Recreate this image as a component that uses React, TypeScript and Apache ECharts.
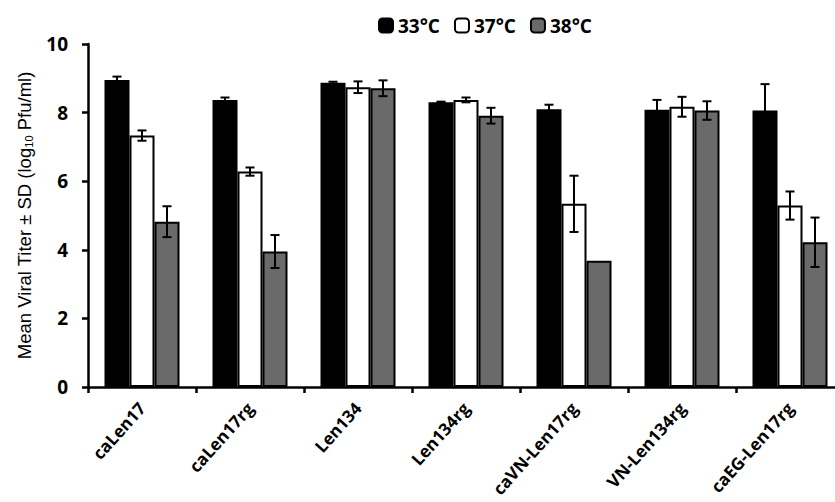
import React, { useEffect, useRef } from "react";
import * as echarts from "echarts";

const categories = ["caLen17", "caLen17rg", "Len134", "Len134rg", "caVN-Len17rg", "VN-Len134rg", "caEG-Len17rg"];
const seriesNames = ["33°C", "37°C", "38°C"];
const mean33 = [8.95, 8.37, 8.87, 8.3, 8.1, 8.08, 8.06];
const sd33 = [0.1, 0.07, 0.03, 0.02, 0.13, 0.29, 0.77];
const mean37 = [7.33, 6.28, 8.74, 8.37, 5.34, 8.17, 5.29];
const sd37 = [0.15, 0.12, 0.17, 0.07, 0.82, 0.29, 0.41];
const mean38 = [4.82, 3.95, 8.71, 7.91, 3.68, 8.06, 4.22];
const sd38 = [0.45, 0.48, 0.23, 0.23, 0, 0.27, 0.72];
const yTicks = [0, 2, 4, 6, 8, 10];

const fills = ["#000000", "#ffffff", "#6a6a6a"];
const BAR_W = 25;

export default function App() {
  const ref = useRef<HTMLDivElement>(null);
  useEffect(() => {
    if (!ref.current) return;
    const chart = echarts.init(ref.current, null, { renderer: "svg" });
    const means = [mean33, mean37, mean38];
    const sds = [sd33, sd37, sd38];
    const barSeries = seriesNames.map((name, k) => ({
      name,
      type: "bar",
      data: means[k],
      barWidth: BAR_W,
      barGap: "0%",
      itemStyle: { color: fills[k], borderColor: "#000", borderWidth: 2 },
      emphasis: { disabled: true },
    }));
    const errSeries = seriesNames.map((name, k) => ({
      type: "custom",
      name: name + "_err",
      z: 10,
      data: means[k].map((m, i) => [i, m - sds[k][i], m + sds[k][i], sds[k][i]]),
      encode: { x: 0, y: [1, 2] },
      renderItem: (params: any, api: any) => {
        const i = api.value(0);
        const sd = api.value(3);
        if (!sd) return { type: "group", children: [] };
        const top = api.coord([i, api.value(2)]);
        const bot = api.coord([i, api.value(1)]);
        const x = top[0] + (k - 1) * BAR_W;
        const cap = 4.5;
        const style = { stroke: "#000", lineWidth: 2 };
        return {
          type: "group",
          children: [
            { type: "line", shape: { x1: x, y1: top[1], x2: x, y2: bot[1] }, style },
            { type: "line", shape: { x1: x - cap, y1: top[1], x2: x + cap, y2: top[1] }, style },
            { type: "line", shape: { x1: x - cap, y1: bot[1], x2: x + cap, y2: bot[1] }, style },
          ],
        };
      },
    }));
    chart.setOption({
      animation: false,
      backgroundColor: "#ffffff",
      legend: {
        data: seriesNames,
        left: 373,
        top: 11,
        itemWidth: 14,
        itemHeight: 14,
        itemGap: 14,
        textStyle: { fontFamily: "Open Sans", fontWeight: "bold", fontSize: 19, color: "#000" },
      },
      grid: { left: 88, top: 44, width: 756, height: 343, outerBoundsMode: "none" },
      xAxis: {
        type: "category",
        data: categories,
        axisLine: { lineStyle: { color: "#000", width: 2.5 } },
        axisTick: { show: true, length: 6, lineStyle: { color: "#000", width: 2.5 } },
        axisLabel: {
          rotate: 48,
          margin: 18,
          color: "#000",
          fontFamily: "Open Sans",
          fontWeight: "bold",
          fontSize: 17,
          interval: 0,
          hideOverlap: false,
        },
      },
      yAxis: {
        type: "value",
        min: 0,
        max: 10,
        interval: 2,
        splitLine: { show: false },
        axisLine: { show: true, lineStyle: { color: "#000", width: 2.5 } },
        axisTick: { show: true, length: 6, lineStyle: { color: "#000", width: 2.5 } },
        axisLabel: {
          margin: 20,
          color: "#000",
          fontFamily: "Open Sans",
          fontWeight: "bold",
          fontSize: 19,
          formatter: (v: number) => (yTicks.includes(v) ? String(v) : ""),
        },
        name: "Mean Viral Titer ± SD (log{sub|10} Pfu/ml)",
        nameLocation: "middle",
        nameGap: 54,
        nameTextStyle: {
          fontFamily: "Liberation Sans",
          fontSize: 18.5,
          color: "#000",
          rich: {
            sub: { fontFamily: "Liberation Sans", fontSize: 11, color: "#000", verticalAlign: "bottom", padding: [6, 0, 0, 0] },
          },
        },
      },
      series: [...barSeries, ...errSeries],
    });
    return () => chart.dispose();
  }, []);
  return <div ref={ref} style={{ position: "fixed", left: 0, top: 0, width: 835, height: 502 }} />;
}
